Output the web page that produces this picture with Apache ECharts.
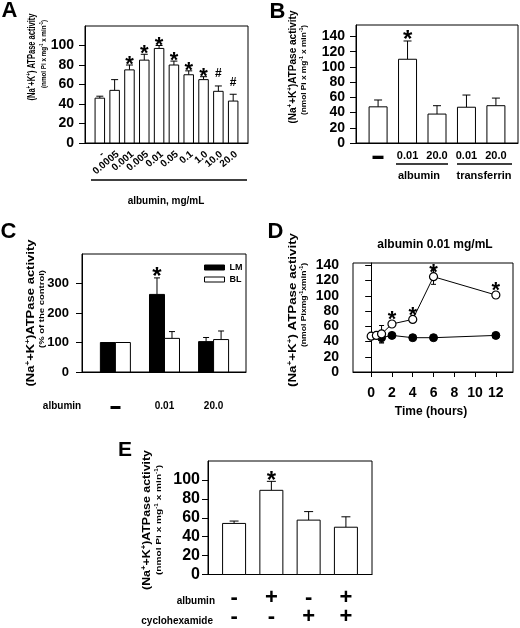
<!DOCTYPE html>
<html><head><meta charset="utf-8">
<script src="https://cdn.jsdelivr.net/npm/echarts@6/dist/echarts.min.js"></script>
<style>html,body{margin:0;padding:0;background:#fff}#c{width:520px;height:628px}</style>
</head><body><div id="c"></div>
<script>
// ---------- Panel A ----------
const aCats  = ['-', '0.0005', '0.001', '0.005', '0.01', '0.05', '0.1', '1.0', '10.0', '20.0'];
const aMeans = [46, 54, 75, 85, 97, 80, 70, 65, 53, 43];
const aErrs  = [2, 11, 5, 6, 3, 4, 4, 3, 5.5, 7];
const aMarks = ['', '', '*', '*', '*', '*', '*', '*', '#', '#'];
const aYTicks = [0, 20, 40, 60, 80, 100];
// ---------- Panel B ----------
const bCats  = ['▬', '0.01', '20.0', '0.01', '20.0'];
const bMeans = [47.5, 110, 38, 47, 49];
const bErrs  = [9, 24, 11, 16, 10];
const bMarks = ['', '*', '', '', ''];
const bYTicks = [0, 20, 40, 60, 80, 100, 120, 140];
// ---------- Panel C ----------
const cCats  = ['▬', '0.01', '20.0'];
const cLM    = [100, 263, 103];
const cLMErr = [0, 56, 14];
const cBL    = [100, 114, 110];
const cBLErr = [0, 23, 29];
const cLMMarks = ['', '*', ''];
const cBLMarks = ['', '', ''];
const cYTicks = [0, 100, 200, 300];
// ---------- Panel D ----------
const dOpenT   = [0, 0.5, 1, 2, 4, 6, 12];
const dOpenV   = [47, 48, 50, 63, 69, 125, 101];
const dOpenE   = [1, 1, 11, 2, 2, 10, 4];
const dOpenMarks = ['', '', '', '*', '*', '*', '*'];
const dFillT   = [1, 2, 4, 6, 12];
const dFillV   = [45, 48, 45, 45, 48];
const dFillE   = [7, 2, 1, 1, 1];
const dXTicks  = [0, 2, 4, 6, 8, 10, 12];
const dYTicks  = [0, 20, 40, 60, 80, 100, 120, 140];
// ---------- Panel E ----------
const eAlbumin = ['-', '+', '-', '+'];
const eCyclo   = ['-', '-', '+', '+'];
const eMeans   = [54, 89, 57.5, 50];
const eErrs    = [2.5, 9.5, 9, 11];
const eMarks   = ['', '*', '', ''];
const eYTicks  = [0, 20, 40, 60, 80, 100];

const F = '"Liberation Sans", Arial, Helvetica, sans-serif';
const chart = echarts.init(document.getElementById('c'), null, {renderer: 'canvas'});

const meas = document.createElement('canvas').getContext('2d');
function textW(s, size) { meas.font = 'bold ' + size + 'px ' + F; return meas.measureText(s).width; }

// rotated label: ^x^ marks superscript
function yLabel(src, size, cx, cy, len) {
  const parts = src.split('^');
  let t = '', w = 0;
  parts.forEach((p, i) => {
    if (!p) return;
    if (i % 2) { t += '{s|' + p + '}'; w += textW(p, size * 0.62); }
    else { t += '{m|' + p + '}'; w += textW(p, size); }
  });
  return {
    type: 'text', x: cx, y: cy, rotation: Math.PI / 2, scaleX: len / w, silent: true,
    style: {
      text: t, align: 'center', verticalAlign: 'middle',
      rich: {
        m: {fontSize: size, fontWeight: 'bold', fontFamily: F, fill: '#000', lineHeight: size * 1.2},
        s: {fontSize: size * 0.62, fontWeight: 'bold', fontFamily: F, fill: '#000', verticalAlign: 'top', lineHeight: size * 1.2}
      }
    }
  };
}
function txt(text, x, y, size, extra) {
  return {type: 'text', x: x, y: y, silent: true,
    style: Object.assign({text: text, fill: '#000', fontFamily: F, fontSize: size, fontWeight: 'bold',
      align: 'center', verticalAlign: 'middle'}, extra || {})};
}
function hline(x1, x2, y, w) {
  return {type: 'line', silent: true, shape: {x1: x1, y1: y, x2: x2, y2: y}, style: {stroke: '#000', lineWidth: w || 1.5}};
}

function markText(m, x, y, starSize) {
  const isStar = m === '*';
  return {type: 'text', x: x, y: y + (isStar ? starSize * 0.28 : 0),
    style: {text: m, fill: '#000', fontFamily: F, fontWeight: 'bold', fontSize: isStar ? starSize : 12,
      align: 'center', verticalAlign: isStar ? 'middle' : 'bottom'}};
}

function barSeries(ai, xs, means, errs, marks, o) {
  return {
    type: 'custom', name: o.name, xAxisIndex: ai, yAxisIndex: ai, z: 3, clip: false,
    encode: {x: 0, y: 1},
    data: means.map((m, i) => [xs[i], m, errs[i]]),
    renderItem: function (params, api) {
      const i = params.dataIndex;
      const x = api.value(0), v = api.value(1), e = api.value(2);
      const p = api.coord([x, v]), b = api.coord([x, 0]), t = api.coord([x, v + e]);
      const cx = p[0] + (o.dx || 0);
      const kids = [];
      if (e > 0) {
        kids.push({type: 'line', shape: {x1: cx, y1: p[1], x2: cx, y2: t[1]}, style: {stroke: '#000', lineWidth: 1}});
        kids.push({type: 'line', shape: {x1: cx - o.cap / 2, y1: t[1], x2: cx + o.cap / 2, y2: t[1]}, style: {stroke: '#000', lineWidth: 1}});
      }
      kids.push({type: 'rect', shape: {x: cx - o.bw / 2, y: p[1], width: o.bw, height: b[1] - p[1]},
        style: {fill: o.fill, stroke: '#000', lineWidth: 1}});
      if (marks[i]) kids.push(markText(marks[i], cx, (e > 0 ? t[1] : p[1]) - o.mOff, o.star));
      return {type: 'group', children: kids};
    }
  };
}

// rotated category labels for panel A, placed through the axis scale
function rotLabelSeries(ai, xs, labels) {
  return {
    type: 'custom', xAxisIndex: ai, yAxisIndex: ai, z: 3, clip: false, silent: true,
    encode: {x: 0, y: 1},
    data: xs.map(x => [x, 0]),
    renderItem: function (params, api) {
      const p = api.coord([api.value(0), 0]);
      return {type: 'text', x: p[0] + 3, y: p[1] + 10, rotation: 40 * Math.PI / 180,
        style: {text: labels[params.dataIndex], fill: '#000', fontFamily: F, fontWeight: 'bold', fontSize: 10,
          align: 'right', verticalAlign: 'middle'}};
    }
  };
}

function errSeries(ai, ts, vals, errs, marks, cap, z) {
  return {
    type: 'custom', xAxisIndex: ai, yAxisIndex: ai, z: z, clip: false, encode: {x: 0, y: 1},
    data: vals.map((v, i) => [ts[i], v, errs[i]]),
    renderItem: function (params, api) {
      const i = params.dataIndex;
      const x = api.value(0), v = api.value(1), e = api.value(2);
      const p = api.coord([x, v]), hi = api.coord([x, v + e]), lo = api.coord([x, v - e]);
      const kids = [
        {type: 'line', shape: {x1: p[0], y1: lo[1], x2: p[0], y2: hi[1]}, style: {stroke: '#000', lineWidth: 1}},
        {type: 'line', shape: {x1: p[0] - cap / 2, y1: hi[1], x2: p[0] + cap / 2, y2: hi[1]}, style: {stroke: '#000', lineWidth: 1}},
        {type: 'line', shape: {x1: p[0] - cap / 2, y1: lo[1], x2: p[0] + cap / 2, y2: lo[1]}, style: {stroke: '#000', lineWidth: 1}}
      ];
      if (marks && marks[i]) kids.push(markText(marks[i], p[0], p[1] - 10, 22));
      return {type: 'group', children: kids};
    }
  };
}

const grids = [
  {left: 85, top: 26, width: 163, height: 117},   // A
  {left: 356, top: 25, width: 162, height: 118},  // B
  {left: 82, top: 254, width: 164, height: 118},  // C
  {left: 353, top: 263, width: 160, height: 109}, // D
  {left: 208, top: 461, width: 164, height: 117}  // E
].map(g => Object.assign({show: true, borderColor: '#000', borderWidth: 1, backgroundColor: 'transparent', containLabel: false}, g));

function yAx(gi, max, ticks, size, margin) {
  return {type: 'value', gridIndex: gi, min: 0, max: max, splitLine: {show: false},
    axisLine: {show: true, lineStyle: {color: '#000', width: 1}},
    axisTick: {show: true, inside: false, length: 6, lineStyle: {color: '#000'}, customValues: ticks},
    axisLabel: {color: '#000', fontFamily: F, fontWeight: 'bold', fontSize: size, margin: margin, customValues: ticks}};
}
function xAx(gi, min, max, vals, fmt, lab) {
  return {type: 'value', gridIndex: gi, min: min, max: max, splitLine: {show: false},
    axisLine: {show: true, lineStyle: {color: '#000', width: 1}},
    axisTick: {show: false},
    axisLabel: Object.assign({color: '#000', fontFamily: F, fontWeight: 'bold', customValues: vals,
      formatter: fmt, showMinLabel: true, showMaxLabel: true, hideOverlap: false}, lab)};
}
const idx = n => Array.from({length: n}, (_, i) => i + 1);

const xAxes = [
  xAx(0, 0, 11, idx(10), v => '', {show: false}),
  xAx(1, 0.25, 5.75, idx(5), v => bCats[Math.round(v) - 1], {fontSize: 11, margin: 7}),
  xAx(2, 0.32, 3.66, idx(3), v => cCats[Math.round(v) - 1], {fontSize: 10, margin: 29}),
  Object.assign(xAx(3, -1.75, 13.65, dXTicks, v => String(v), {fontSize: 14, margin: 14}),
    {axisTick: {show: true, inside: false, length: 5, lineStyle: {color: '#000'}, customValues: dXTicks}}),
  xAx(4, 0.3, 4.7, idx(4), v => eAlbumin[Math.round(v) - 1] + '\n' + eCyclo[Math.round(v) - 1],
    {fontSize: 22, lineHeight: 19, margin: 14})
];
const yAxes = [
  yAx(0, 120, aYTicks, 14, 11),
  yAx(1, 155, bYTicks, 14, 11),
  yAx(2, 400, cYTicks, 13, 13),
  yAx(3, 143, dYTicks, 14, 14),
  yAx(4, 120, eYTicks, 16, 8)
];

const series = [
  barSeries(0, idx(10), aMeans, aErrs, aMarks, {bw: 9.5, cap: 7, fill: '#fff', mOff: 6, star: 22}),
  rotLabelSeries(0, idx(10), aCats),
  barSeries(1, idx(5), bMeans, bErrs, bMarks, {bw: 18, cap: 8, fill: '#fff', mOff: 7, star: 24}),
  barSeries(2, idx(3), cLM, cLMErr, cLMMarks, {name: 'LM', bw: 15, cap: 6, fill: '#000', dx: -7.5, mOff: 7, star: 24}),
  barSeries(2, idx(3), cBL, cBLErr, cBLMarks, {name: 'BL', bw: 15, cap: 6, fill: '#fff', dx: 7.5, mOff: 7, star: 24}),
  errSeries(3, dFillT, dFillV, dFillE, null, 5, 2),
  {type: 'line', xAxisIndex: 3, yAxisIndex: 3, z: 3, data: dFillT.map((t, i) => [t, dFillV[i]]),
    symbol: 'circle', symbolSize: 8, itemStyle: {color: '#000', borderColor: '#000', borderWidth: 1},
    lineStyle: {color: '#000', width: 1}, silent: true, animation: false},
  errSeries(3, dOpenT, dOpenV, dOpenE, dOpenMarks, 5, 4),
  {type: 'line', xAxisIndex: 3, yAxisIndex: 3, z: 5, data: dOpenT.map((t, i) => [t, dOpenV[i]]),
    symbol: 'circle', symbolSize: 8, itemStyle: {color: '#fff', borderColor: '#000', borderWidth: 1.2},
    lineStyle: {color: '#000', width: 1}, silent: true, animation: false},
  barSeries(4, idx(4), eMeans, eErrs, eMarks, {bw: 23, cap: 9, fill: '#fff', mOff: 7, star: 24})
];

const graphic = [
  txt('A', 9.5, 11, 22), txt('B', 277.5, 11.5, 22), txt('C', 8.5, 231.5, 22), txt('D', 275.5, 231.5, 22), txt('E', 125, 450, 21),
  yLabel('(Na^+^+K^+^) ATPase activity', 10.5, 32.5, 57, 87),
  yLabel('(nmol Pi x mg^-1^ x min^-1^)', 7.5, 43.5, 54, 68),
  yLabel('(Na^+^+K^+^)ATPase activity', 10.5, 293, 67, 113),
  yLabel('(nmol Pi x mg^-1^ x min^-1^)', 7.5, 304, 70, 90),
  yLabel('(Na^+^+K^+^)ATPase activity', 10.5, 31.5, 313, 147),
  yLabel('(% of the control)', 7.5, 41.5, 309, 78),
  yLabel('(Na^+^+K^+^) ATPase activity', 10.5, 293, 310, 154),
  yLabel('(nmol Pixmg^-1^xmin^-1^)', 7.5, 304, 305, 84),
  yLabel('(Na^+^+K^+^)ATPase activity', 10.5, 147, 520, 140),
  yLabel('(nmol Pi x mg^-1^ x min^-1^)', 7.5, 159, 520, 110),
  hline(91, 247, 180), txt('albumin, mg/mL', 166, 201, 10),
  hline(396, 448, 164), hline(457, 512, 164),
  txt('albumin', 419, 176, 11), txt('transferrin', 484, 176, 11),
  txt('albumin', 62, 406.5, 10),
  txt('albumin 0.01 mg/mL', 435, 245, 12),
  txt('Time (hours)', 431, 411.5, 12),
  txt('albumin', 215, 601.5, 10, {align: 'right'}),
  txt('cyclohexamide', 213, 621, 10, {align: 'right'})
];

chart.setOption({
  animation: false,
  backgroundColor: '#fff',
  grid: grids, xAxis: xAxes, yAxis: yAxes, series: series, graphic: graphic,
  legend: {
    left: 199, top: 258, orient: 'vertical', itemWidth: 20, itemHeight: 5, itemGap: 3, selectedMode: false,
    textStyle: {fontFamily: F, fontWeight: 'bold', fontSize: 9, color: '#000'},
    data: [
      {name: 'LM', icon: 'rect', itemStyle: {color: '#000', borderColor: '#000', borderWidth: 1}},
      {name: 'BL', icon: 'rect', itemStyle: {color: '#fff', borderColor: '#000', borderWidth: 1}}
    ]
  }
});
</script></body></html>
